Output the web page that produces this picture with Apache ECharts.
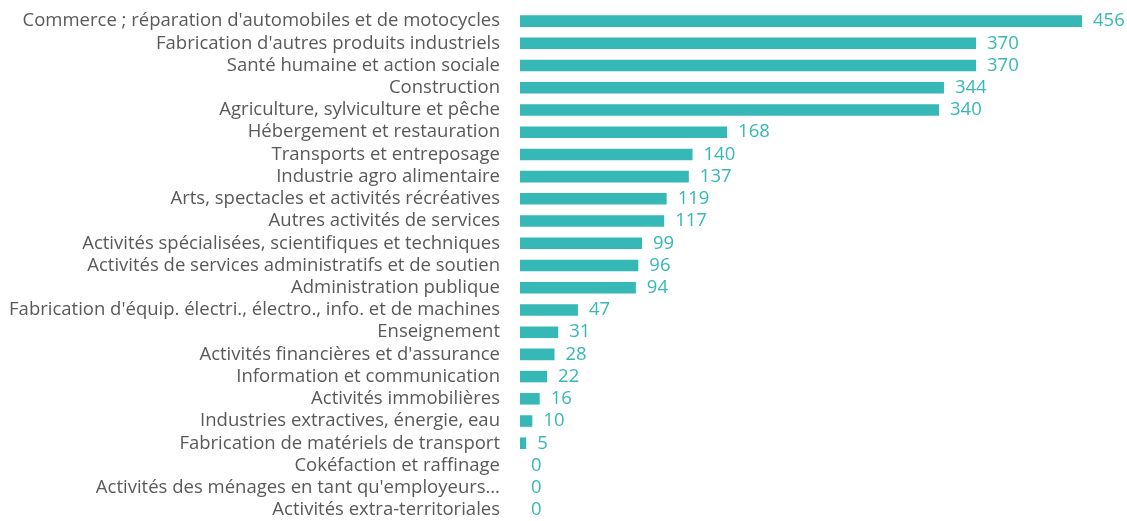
<!DOCTYPE html>
<html><head><meta charset="utf-8">
<script src="https://cdn.jsdelivr.net/npm/echarts@6/dist/echarts.min.js"></script>
<style>html,body{margin:0;padding:0;background:#fff}#c{width:1127px;height:521px}</style>
</head><body><div id="c"></div>
<script>
var categories = [
"Commerce ; réparation d'automobiles et de motocycles",
"Fabrication d'autres produits industriels",
"Santé humaine et action sociale",
"Construction",
"Agriculture, sylviculture et pêche",
"Hébergement et restauration",
"Transports et entreposage",
"Industrie agro alimentaire",
"Arts, spectacles et activités récréatives",
"Autres activités de services",
"Activités spécialisées, scientifiques et techniques",
"Activités de services administratifs et de soutien",
"Administration publique",
"Fabrication d'équip. électri., électro., info. et de machines",
"Enseignement",
"Activités financières et d'assurance",
"Information et communication",
"Activités immobilières",
"Industries extractives, énergie, eau",
"Fabrication de matériels de transport",
"Cokéfaction et raffinage",
"Activités des ménages en tant qu'employeurs…",
"Activités extra-territoriales"
];
var values = [456,370,370,344,340,168,140,137,119,117,99,96,94,47,31,28,22,16,10,5,0,0,0];

var chart = echarts.init(document.getElementById('c'));
chart.setOption({
  animation:false,
  grid:{left:520, top:10, width:562, height:516.5, containLabel:false},
  xAxis:{type:'value', min:0, max:Math.max.apply(null, values), show:false},
  yAxis:{type:'category', inverse:true, data:categories,
    axisLine:{show:false}, axisTick:{show:false},
    axisLabel:{color:'#595959', fontSize:18.5, fontFamily:'Open Sans', margin:20, interval:0}},
  series:[{type:'bar', data:values, barWidth:'52%',
    itemStyle:{color:'#36B8B6'},
    label:{show:true, position:'right', distance:11, color:'#36B8B6', fontSize:18.5, fontFamily:'Open Sans'}}]
});
</script></body></html>
